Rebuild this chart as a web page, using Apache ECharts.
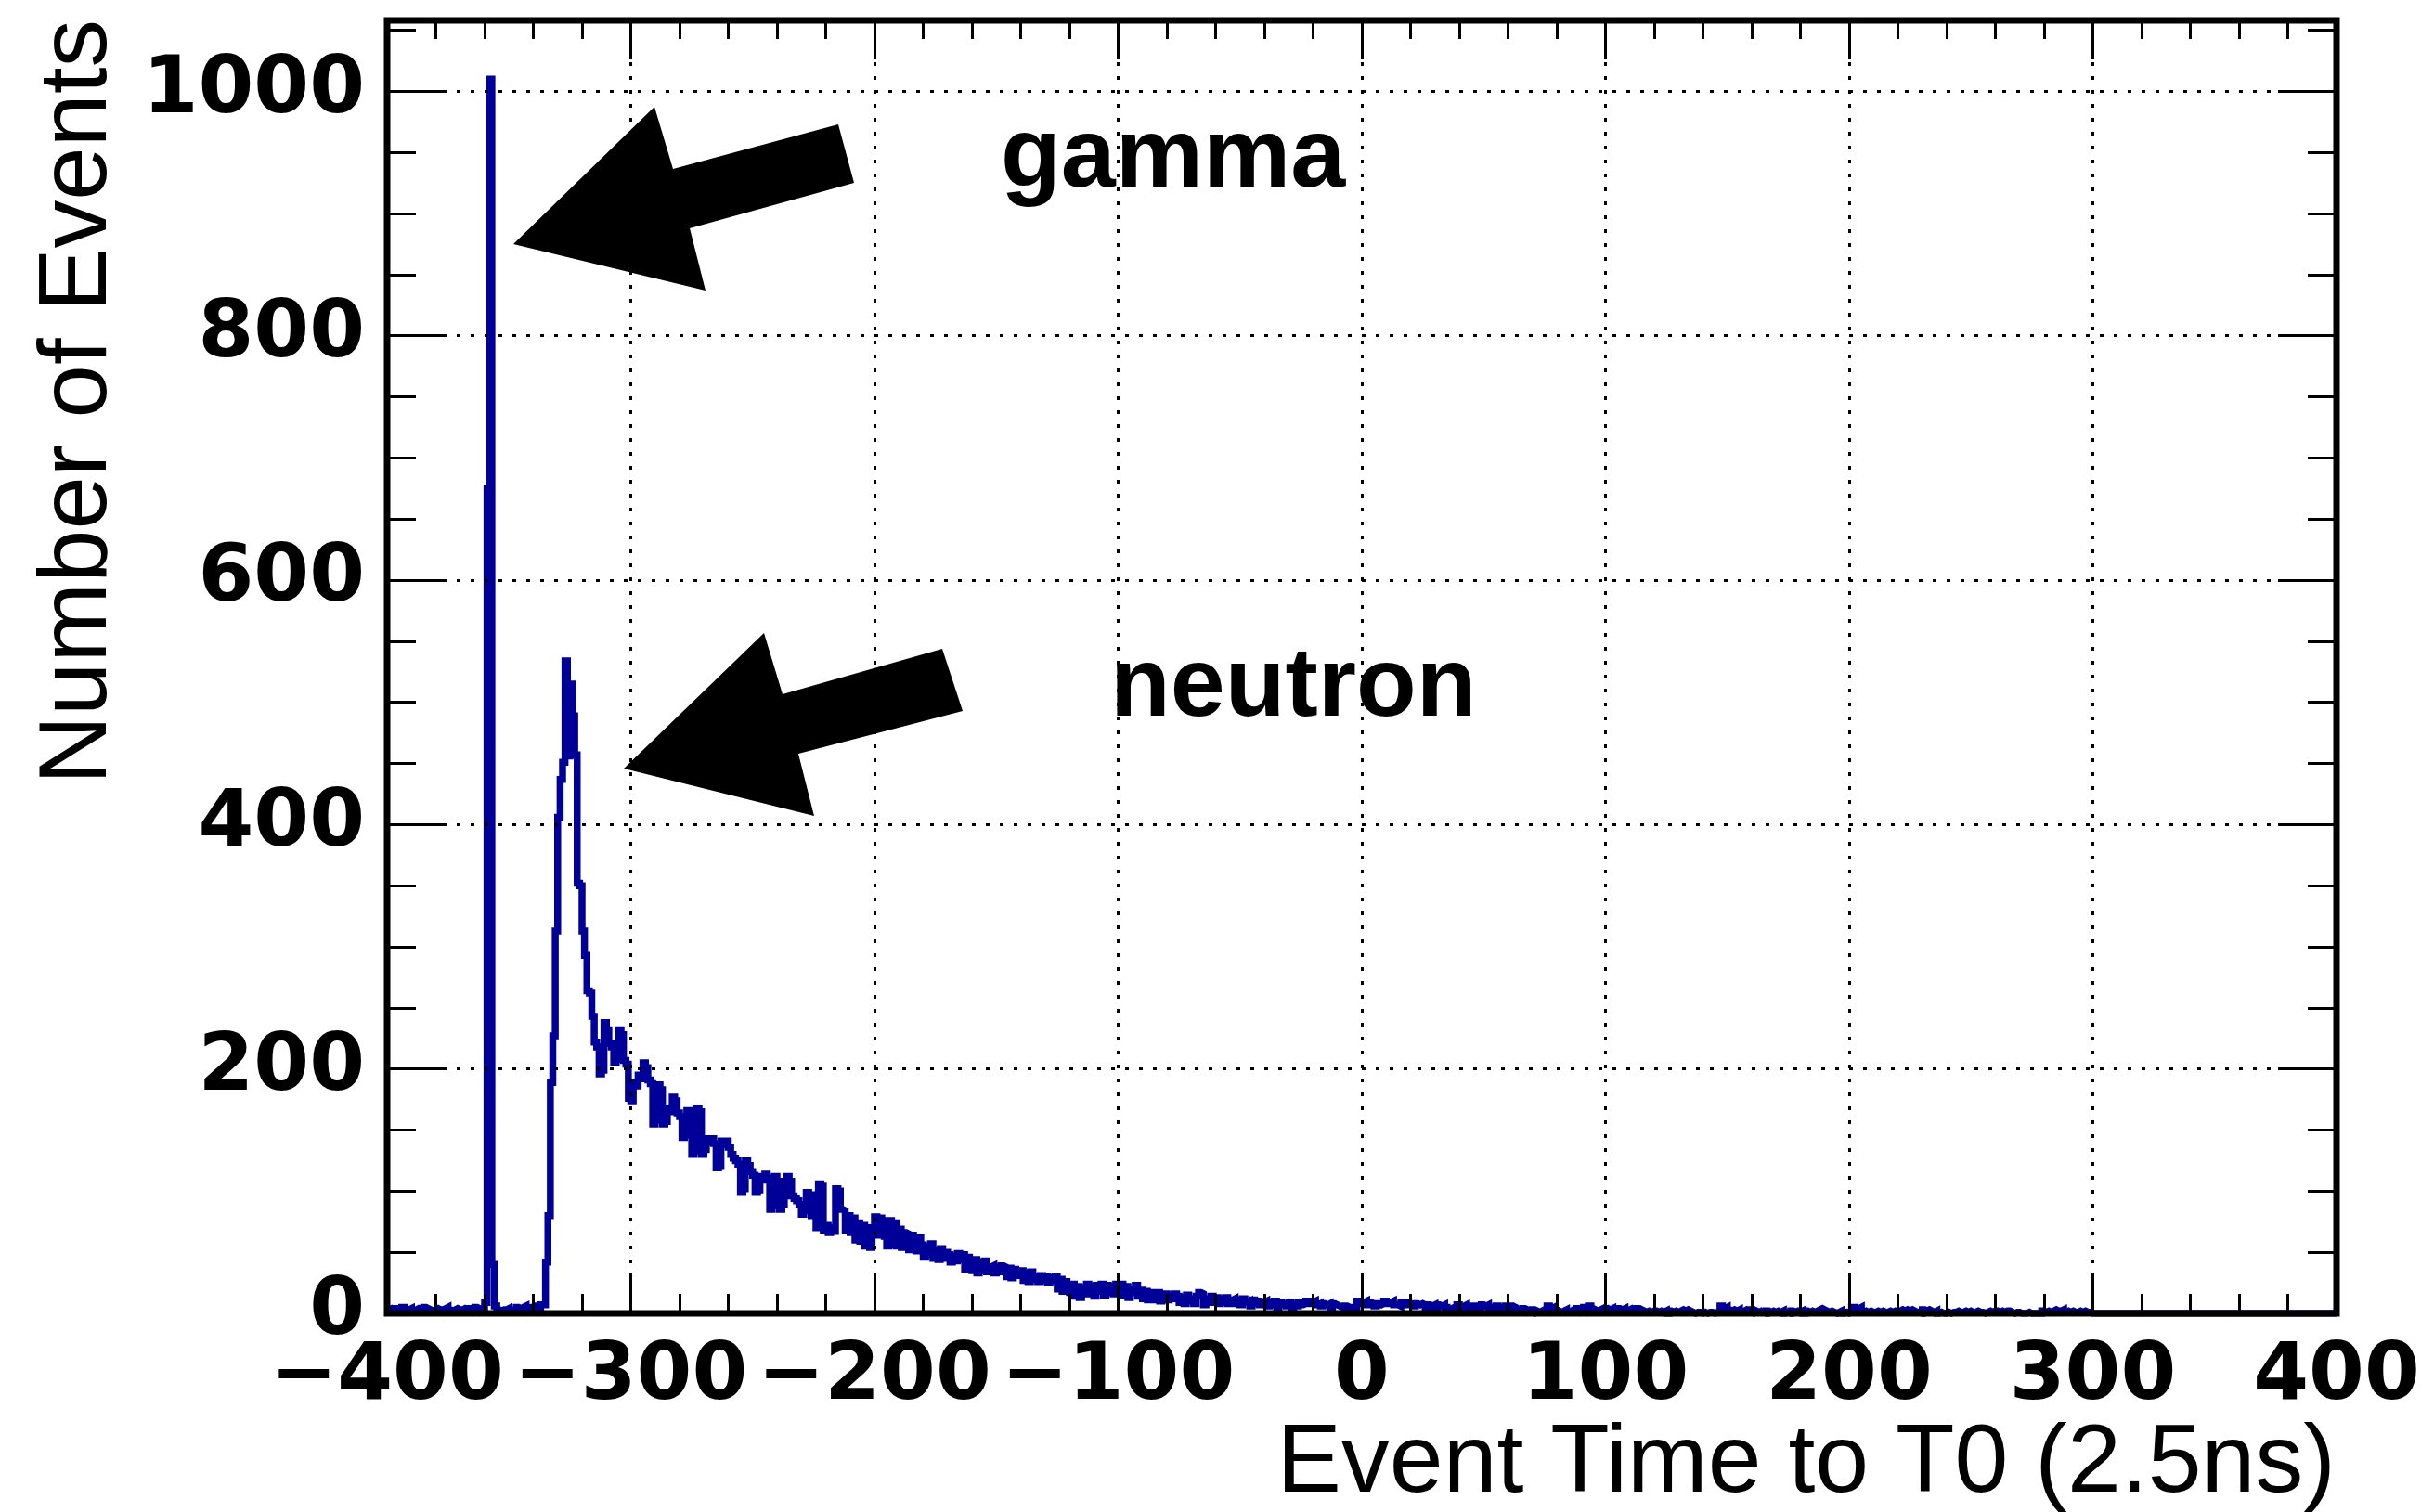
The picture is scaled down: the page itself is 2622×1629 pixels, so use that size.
<!DOCTYPE html>
<html><head><meta charset="utf-8">
<script src="https://cdn.jsdelivr.net/npm/echarts@6.0.0/dist/echarts.min.js"></script>
<style>html,body{margin:0;padding:0;background:#fff}#c{width:2622px;height:1629px}</style>
</head><body><div id="c"></div>
<script>
// Histogram: 1-unit bins from -400 to 400
const binStart = -400;
const binWidth = 1;
// -400 .. -361
const countsPre = [3,4,3,2,4,3,5,3,3,4, 2,3,4,3,3,5,4,3,2,3, 4,3,3,4,5,3,2,3,4,3, 3,4,3,2,4,3,5,4,3,4];
// -360 .. -356 (gamma peak)
const countsGamma = [9,675,1010,40,6];
// -355 .. -337
const countsGap = [3,2,3,3,4,2,3,3,5,4, 5,6,4,5,5,4,6,5,7];
// -336 .. -301 (neutron peak)
const countsNeutron = [7,42,80,189,227,313,406,437,451,534, 456,515,489,457,352,350,313,293,264,262,
  243,222,218,196,199,238,232,221,218,205, 208,232,228,207,204,176];
// -300 .. -228
const countsTailA = [174,189,186,195,192,205,201,191,188,155, 158,187,183,155,157,168,165,177,174,164,
  161,144,146,166,163,130,133,168,165,130, 134,143,140,143,139,119,121,141,138,141,
  136,130,127,125,122,99,102,125,121,116, 113,99,101,112,109,114,111,85,88,112,
  108,85,89,96,112,108,96,94,92,89, 81,84,99];
// -227 .. -100
const countsTailB = [92,80,97,70,106,104,68,72,66,70, 67,102,100,85,84,68,80,66,78,60,
  74,59,72,55,70,54,66,79,64,78, 76,63,55,76,56,74,55,69,54,66,
  65,52,64,58,51,62,56,46,55,48, 57,45,52,44,53,45,50,48,42,47,
  43,49,44,48,36,46,38,35,44,33, 42,35,43,34,38,39,33,38,34,39,
  38,30,37,29,36,31,33,35,27,33, 26,34,28,30,26,31,27,30,25,29,
  27,30,20,28,18,26,22,17,24,14, 22,13,21,16,24,16,22,14,23,18,
  24,15,23,17,22,16,24,19];
// -99 .. -27
const countsTailC = [24,15,22,13,20,17,23,14,19,12, 18,11,17,15,11,17,10,14,16,11,
  15,12,16,14,9,13,8,15,10,12, 8,14,17,16,7,12,9,14,10,13,
  8,12,9,13,8,11,12,8,11,7, 12,9,10,6,11,8,10,7,9,10,
  6,9,7,10,5,9,7,8,6,9, 5,8,6];
// -26 .. 99
const countsTailD = [9,7,8, 10,8,9,10,7, 8,6,8,7,8,5,8,7,6, 5,4,6,5,3,5,4, 10,8,9,10,7,9,
  8,6,8,7,8, 10,8,9,10,7, 7,6, 9,7,9,8, 8,6,8,7,8, 7,5,7,6,7,4,7,6,7, 5,3,4,5,3,
  7,5,6,7,4,6, 5,4,6,5, 7,6,7,5, 5,4,6,3,5,4, 6,4,6,5,3, 3,2,4,3, 2,1,3,2,1,2,3,2,
  6,4,5,3, 2,1,2,3,1,2, 3,2,4,3,2, 5,4,6,4, 3,2,3,1,3];
// 100 .. 199
const countsTailE = [4,3,4,2,4, 4,3,4,2,3,4,3,2,4,3, 2,1,2,1,2,2,1, 2,1,2,0,2,1,2,1,2, 3,2,3,2,
  1,0,1,1,0,1,0,1,1,0,1,1, 6,4,5,3,2, 3,2,3,1,2,3,2,1,3, 2,1,2,1,0,2,1,2,1,2,1,2,
  0,1,0, 2,1,2,1,2,0,2,1,2,1,2, 3,4,3,2, 1,2,1,0,1,2, 0,1,0];
// 200 .. 299
const countsTailF = [1,5,5,4,5, 1,2,1,2,1,1,2,1,2,1,1,2,1,2,1,2, 3,2,3,2,3,2, 1,1,0, 3,2,3,2, 1,2,
  0,1,0,0,1,0,1, 1,2,1,1,2,1,2,1,1,2, 1,1,0,1, 2,1,2,2,1,2,1,2,2, 1,0,1,1,
  0,0,0,1,0,0,0,0,0, 2,1,2,1,2, 3,2,2,3, 1,2,1,2,1,1,2,1,2,1,1,0];
// 300 .. 399
const countsTailG = [0,0,0,0,0,0,0,0,0,0, 0,0,0,0,0,0,0,0,0,0, 0,0,0,0,0,0,0,0,0,0,
  0,0,0,0,0,0,0,0,0,0, 0,0,0,0,0,0,0,0,0,0, 0,0,0,0,0,0,0,0,0,0,
  0,0,0,0,0,0,0,0,0,0, 0,0,0,0,0,0,0,0,0,0, 0,0,0,0,0,0,0,0,0,0, 0,0,0,0,0,0,0,0,0,0];

const counts = [].concat(countsPre, countsGamma, countsGap, countsNeutron, countsTailA,
  countsTailB, countsTailC, countsTailD, countsTailE, countsTailF, countsTailG);
const histData = counts.map((c, i) => [binStart + i * binWidth, c]);
histData.push([binStart + counts.length * binWidth, counts[counts.length - 1]]);

const xMin = -400, xMax = 400, xStep = 100;
const yMin = 0, yMax = 1058, yStep = 200, yMinorStep = 50;
const xTitle = 'Event Time to T0 (2.5ns)';
const yTitle = 'Number of Events';
const labelGamma = 'gamma';
const labelNeutron = 'neutron';

const tickFont = {fontFamily: 'DejaVu Sans', fontWeight: 'bold', fontSize: 86, color: '#000'};
const dotted = {color: '#000', width: 3, type: [4, 11]};
const tickStyle = {color: '#000', width: 3};
const noLine = {show: false, onZero: false};

const chart = echarts.init(document.getElementById('c'), null, {renderer: 'canvas'});
chart.setOption({
  animation: false,
  backgroundColor: '#fff',
  grid: {left: 417, right: 105, top: 22, bottom: 214, show: true, borderColor: '#000',
         borderWidth: 7, backgroundColor: 'transparent', z: 5, outerBoundsMode: 'none', containLabel: false},
  xAxis: [
    {type: 'value', position: 'bottom', min: xMin, max: xMax, interval: xStep, z: 4,
     axisLine: noLine,
     axisTick: {show: true, inside: true, length: 44, lineStyle: tickStyle},
     minorTick: {show: true, splitNumber: 5, length: 21, lineStyle: tickStyle},
     axisLabel: Object.assign({margin: 27, showMinLabel: true, showMaxLabel: true,
       formatter: v => v < 0 ? '\u2212' + Math.abs(v) : String(v)}, tickFont),
     splitLine: {show: true, lineStyle: dotted}, minorSplitLine: {show: false}},
    {type: 'value', position: 'top', min: xMin, max: xMax, interval: xStep, z: 4,
     axisLine: noLine,
     axisTick: {show: true, inside: true, length: 42, lineStyle: tickStyle},
     minorTick: {show: true, splitNumber: 5, length: 20, lineStyle: tickStyle},
     axisLabel: {show: false}, splitLine: {show: false}}
  ],
  yAxis: [
    {type: 'value', position: 'left', min: yMin, max: yMax, interval: yStep, z: 4,
     axisLine: noLine,
     axisTick: {show: true, inside: true, length: 63, lineStyle: tickStyle},
     axisLabel: Object.assign({margin: 24, showMinLabel: true, showMaxLabel: false,
       formatter: v => (v % yStep === 0 ? String(v) : '')}, tickFont),
     splitLine: {show: true, lineStyle: dotted}},
    {type: 'value', position: 'left', min: yMin, max: yMax, interval: yMinorStep, z: 4,
     axisLine: noLine,
     axisTick: {show: true, inside: true, length: 31, lineStyle: tickStyle},
     axisLabel: {show: false}, splitLine: {show: false}},
    {type: 'value', position: 'right', min: yMin, max: yMax, interval: yStep, z: 4,
     axisLine: noLine,
     axisTick: {show: true, inside: true, length: 63, lineStyle: tickStyle},
     axisLabel: {show: false}, splitLine: {show: false}},
    {type: 'value', position: 'right', min: yMin, max: yMax, interval: yMinorStep, z: 4,
     axisLine: noLine,
     axisTick: {show: true, inside: true, length: 31, lineStyle: tickStyle},
     axisLabel: {show: false}, splitLine: {show: false}}
  ],
  series: [{
    type: 'line', xAxisIndex: 0, yAxisIndex: 0, step: 'end', data: histData,
    showSymbol: false, symbol: 'none', z: 3,
    lineStyle: {color: '#000099', width: 7.5, join: 'miter'}
  }],
  graphic: [
    {type: 'polygon', z: 10, shape: {points: [[553,263],[705,115],[725,182],[903,134],[920,197],[743,246],[760,313]]},
     style: {fill: '#000'}},
    {type: 'polygon', z: 10, shape: {points: [[672,828],[823,682],[843,748],[1015,699],[1037,766],[860,812],[877,879]]},
     style: {fill: '#000'}},
    {type: 'text', z: 10, x: 1078, y: 172,
     style: {text: labelGamma, fill: '#000', fontFamily: 'Liberation Sans', fontWeight: 'bold', fontSize: 106,
             align: 'left', verticalAlign: 'middle'}},
    {type: 'text', z: 10, x: 1196, y: 742,
     style: {text: labelNeutron, fill: '#000', fontFamily: 'Liberation Sans', fontWeight: 'bold', fontSize: 106,
             align: 'left', verticalAlign: 'middle'}},
    {type: 'text', z: 10, x: 2516, y: 1578,
     style: {text: xTitle, fill: '#000', fontFamily: 'Liberation Sans', fontSize: 104,
             align: 'right', verticalAlign: 'middle'}},
    {type: 'text', z: 10, x: 86, y: 21, rotation: Math.PI / 2,
     style: {text: yTitle, fill: '#000', fontFamily: 'Liberation Sans', fontSize: 103,
             align: 'right', verticalAlign: 'middle'}}
  ]
});
</script></body></html>
